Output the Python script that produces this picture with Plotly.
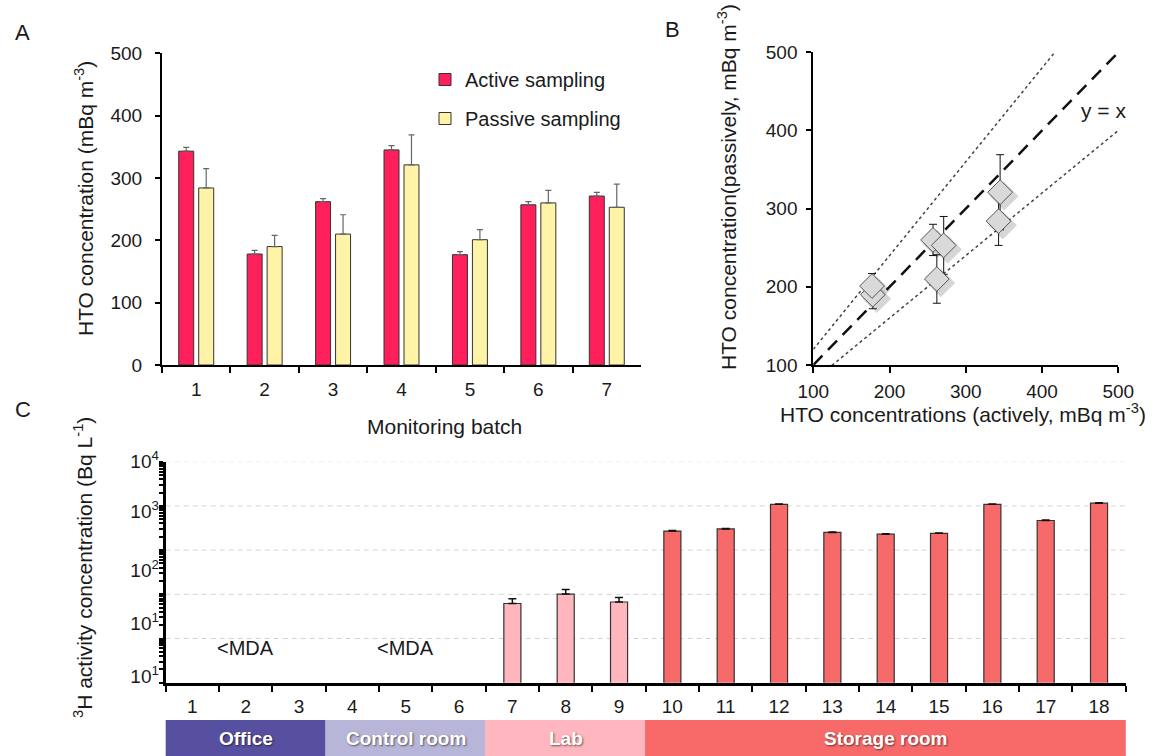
import plotly.graph_objects as go

# ---------------- data ----------------
batches = ["1", "2", "3", "4", "5", "6", "7"]
active = [343, 178, 262, 345, 177, 257, 271]
active_err = [6, 6, 5, 7, 5, 5, 6]
passive = [284, 190, 210, 321, 201, 260, 253]
passive_err = [31, 18, 31, 48, 16, 20, 37]

ref_x = [100, 500]
ref_ratios = [1.2, 0.8]

samples = [str(i) for i in range(1, 19)]
h3 = [None] * 6 + [6.2, 10.1, 6.7, 269, 302, 1085, 251, 229, 240, 1085, 468, 1150]
h3_err = [0] * 6 + [1.7, 2.8, 1.8, 8, 6, 25, 6, 5, 5, 20, 10, 25]
rooms = ["Office"] * 3 + ["Control room"] * 3 + ["Lab"] * 3 + ["Storage room"] * 9
mda_samples = ["2", "5"]

c_ticktext = ["10<sup>4</sup>", "10<sup>3</sup>", "10<sup>2</sup>", "10<sup>1</sup>", "10<sup>1</sup>"]
c_tick_log = [4, 2.885, 1.55, 0.35, -0.86]

# ---------------- styles ----------------
W, H = 1169, 756
FONT = "Liberation Sans, Arial, sans-serif"
TXT = "#1a1a1a"
room_band_colors = {"Office": "#574fa0", "Control room": "#b8b6d8",
                    "Lab": "#ffb6be", "Storage room": "#f86a6a"}
room_bar_colors = {"Office": "#ffb6bd", "Control room": "#ffb6bd",
                   "Lab": "#ffb6bd", "Storage room": "#f76a6a"}


def px(x):
    return x / W


def py(y):
    return 1 - y / H


B_RANGE = [100, 500]
B_XDOM = [px(813.3), px(1118.3)]
B_YDOM = [py(365), py(52.3)]
SHADOW_PX = 4
sx = SHADOW_PX * (B_RANGE[1] - B_RANGE[0]) / 305.0
sy = SHADOW_PX * (B_RANGE[1] - B_RANGE[0]) / 312.7

fig = go.Figure()

# ---- Panel A ----
fig.add_trace(go.Bar(
    x=batches, y=active, name="Active sampling", xaxis="x", yaxis="y",
    width=0.219, offset=-0.2555,
    marker=dict(color="#ff1f5a", line=dict(color="#333333", width=1)),
    error_y=dict(type="data", array=active_err, arrayminus=[0] * len(active),
                 symmetric=False, color="#666666", thickness=1.2, width=3),
    legendgroup="a",
))
fig.add_trace(go.Bar(
    x=batches, y=passive, name="Passive sampling", xaxis="x", yaxis="y",
    width=0.219, offset=0.0365,
    marker=dict(color="#fff3a8", line=dict(color="#333333", width=1)),
    error_y=dict(type="data", array=passive_err, arrayminus=[0] * len(passive),
                 symmetric=False, color="#666666", thickness=1.2, width=3),
    legendgroup="b",
))

# ---- Panel B ----
for r in ref_ratios:
    fig.add_trace(go.Scatter(
        x=ref_x, y=[r * v for v in ref_x], mode="lines", xaxis="x2", yaxis="y2",
        line=dict(color="#444444", width=1.5, dash="dot"), showlegend=False,
        hoverinfo="skip"))
fig.add_trace(go.Scatter(
    x=ref_x, y=ref_x, mode="lines", xaxis="x2", yaxis="y2",
    line=dict(color="#111111", width=2.5, dash="13px,8px"), showlegend=False,
    hoverinfo="skip"))
# soft drop shadow (drawn on an offset overlay axis pair)
fig.add_trace(go.Scatter(
    x=active, y=passive, mode="markers", xaxis="x5", yaxis="y5",
    marker=dict(symbol="diamond", size=22, color="rgba(0,0,0,0.16)", line=dict(width=0)),
    showlegend=False, hoverinfo="skip"))
fig.add_trace(go.Scatter(
    x=active, y=passive, mode="markers", xaxis="x6", yaxis="y6",
    marker=dict(symbol="diamond", size=19, color="#d9d9d9",
                line=dict(color="#555555", width=1)),
    error_y=dict(type="data", array=passive_err, color="#111111", thickness=1, width=4),
    showlegend=False))

# ---- Panel C ----
fig.add_trace(go.Bar(
    x=samples, y=h3, xaxis="x3", yaxis="y3", width=0.32,
    marker=dict(color=[room_bar_colors[r] for r in rooms],
                line=dict(color="#333333", width=1.2)),
    error_y=dict(type="data", array=h3_err, arrayminus=[0] * len(h3_err),
                 symmetric=False, color="#111111", thickness=1.5, width=4),
    showlegend=False))

# room band
band_cols = [room_band_colors[r] for r in rooms]
fig.add_trace(go.Bar(
    x=samples, y=[1] * len(samples), xaxis="x3", yaxis="y4", width=1.0,
    marker=dict(color=band_cols, line=dict(width=1, color=band_cols)),
    showlegend=False, hoverinfo="skip"))


def ann(text, x, y, size=21, angle=0, xref="paper", yref="paper", **kw):
    return dict(text=text, x=x, y=y, xref=xref, yref=yref, textangle=angle,
                showarrow=False, xanchor="center", yanchor="middle",
                font=dict(size=size, color=kw.pop("color", TXT), family=FONT, **kw))


annotations = []
# panel letters
for letter, (lx, ly) in {"A": (22, 32), "B": (672, 30), "C": (23, 409)}.items():
    annotations.append(ann(letter, px(lx), py(ly), size=22))
# axis titles
annotations += [
    ann("HTO concentration (mBq m<sup>-3</sup>)", px(84), py(199), angle=-90),
    ann("Monitoring batch", px(444), py(426)),
    ann("HTO concentration(passively, mBq m<sup>-3</sup>)", px(727), py(187), angle=-90),
    ann("HTO concentrations (actively, mBq m<sup>-3</sup>)", px(963), py(413)),
    ann("<sup>3</sup>H activity concentration (Bq L<sup>-1</sup>)", px(83), py(568), angle=-90),
    ann("y = x", 480, 426, xref="x2", yref="y2"),
]
for s in mda_samples:
    annotations.append(ann("&lt;MDA", samples.index(s), -0.215, size=20, xref="x3", yref="y3"))
# room labels
seen = []
for r in rooms:
    if r not in seen:
        seen.append(r)
for r in seen:
    idx = [i for i, rr in enumerate(rooms) if rr == r]
    annotations.append(ann("<b>%s</b>" % r, sum(idx) / len(idx), 0.5, size=19,
                           xref="x3", yref="y4 domain", color="white",
                           shadow="1px 1px 2px rgba(0,0,0,0.55)"))

# gridlines for panel C (decades)
shapes = []
for d in [0, 1, 2, 3, 4]:
    shapes.append(dict(type="line", xref="x3 domain", yref="y3", x0=0, x1=1,
                       y0=10 ** d, y1=10 ** d,
                       line=dict(color="#d4d4d4", width=1, dash="5px,4px"), layer="below"))

minor_vals = [k * 10 ** d for d in range(-1, 4) for k in range(1, 10)] + [1e4]

axis_common = dict(showline=True, linecolor="black", showgrid=False, zeroline=False,
                   ticks="outside", tickcolor="black", automargin=False,
                   tickfont=dict(size=19, color=TXT, family=FONT))
hidden = dict(visible=False, automargin=False, showgrid=False, zeroline=False)

fig.update_layout(
    width=W, height=H, margin=dict(l=0, r=0, t=0, b=0, autoexpand=False),
    paper_bgcolor="white", plot_bgcolor="white",
    font=dict(family=FONT, color=TXT),
    barmode="overlay",
    showlegend=True,
    legend=dict(x=px(425), y=py(60), xanchor="left", yanchor="top",
                bgcolor="rgba(0,0,0,0)", font=dict(size=20, color=TXT),
                tracegroupgap=10, itemwidth=30),
    xaxis=dict(domain=[px(162), px(641)], anchor="y", type="category",
               range=[-0.5, 6.5], tickson="boundaries", ticklen=6, tickwidth=2,
               linewidth=2, ticklabelstandoff=6, **axis_common),
    yaxis=dict(domain=[py(365), py(53.3)], anchor="x", range=[0, 500], dtick=100,
               ticklen=5, tickwidth=2, linewidth=2, ticklabelstandoff=9, **axis_common),
    xaxis2=dict(domain=B_XDOM, anchor="y2", range=B_RANGE, dtick=100,
                ticklen=6, tickwidth=2, linewidth=2, ticklabelstandoff=2, **axis_common),
    yaxis2=dict(domain=B_YDOM, anchor="x2", range=B_RANGE, dtick=100,
                ticklen=5, tickwidth=2, linewidth=2, ticklabelstandoff=5, **axis_common),
    xaxis5=dict(domain=B_XDOM, anchor="y5", overlaying="x2",
                range=[B_RANGE[0] - sx, B_RANGE[1] - sx], **hidden),
    yaxis5=dict(domain=B_YDOM, anchor="x5", overlaying="y2",
                range=[B_RANGE[0] + sy, B_RANGE[1] + sy], **hidden),
    xaxis6=dict(domain=B_XDOM, anchor="y6", overlaying="x2", range=B_RANGE, **hidden),
    yaxis6=dict(domain=B_YDOM, anchor="x6", overlaying="y2", range=B_RANGE, **hidden),
    xaxis3=dict(domain=[px(165.7), px(1125.7)], anchor="y3", type="category",
                range=[-0.5, 17.5], tickson="boundaries", ticklen=6, tickwidth=2,
                linewidth=3, ticklabelstandoff=4, **axis_common),
    yaxis3=dict(domain=[py(682.7), py(461.7)], anchor="x3", type="log", range=[-1, 4],
                tickvals=[10 ** p for p in c_tick_log], ticktext=c_ticktext,
                ticks="", showline=True, linecolor="black", linewidth=3,
                showgrid=False, zeroline=False, automargin=False,
                tickfont=dict(size=19, color=TXT, family=FONT),
                minor=dict(tickvals=minor_vals, ticks="outside", ticklen=4, tickwidth=2,
                           tickcolor="black", showgrid=False)),
    yaxis4=dict(domain=[0, py(720)], anchor="x3", range=[0, 1], visible=False,
                automargin=False),
    annotations=annotations,
    shapes=shapes,
)

fig.write_html(
    "out.html",
    config={"displayModeBar": False},
    post_script="document.body.style.margin='0';document.body.style.overflow='hidden';",
)
